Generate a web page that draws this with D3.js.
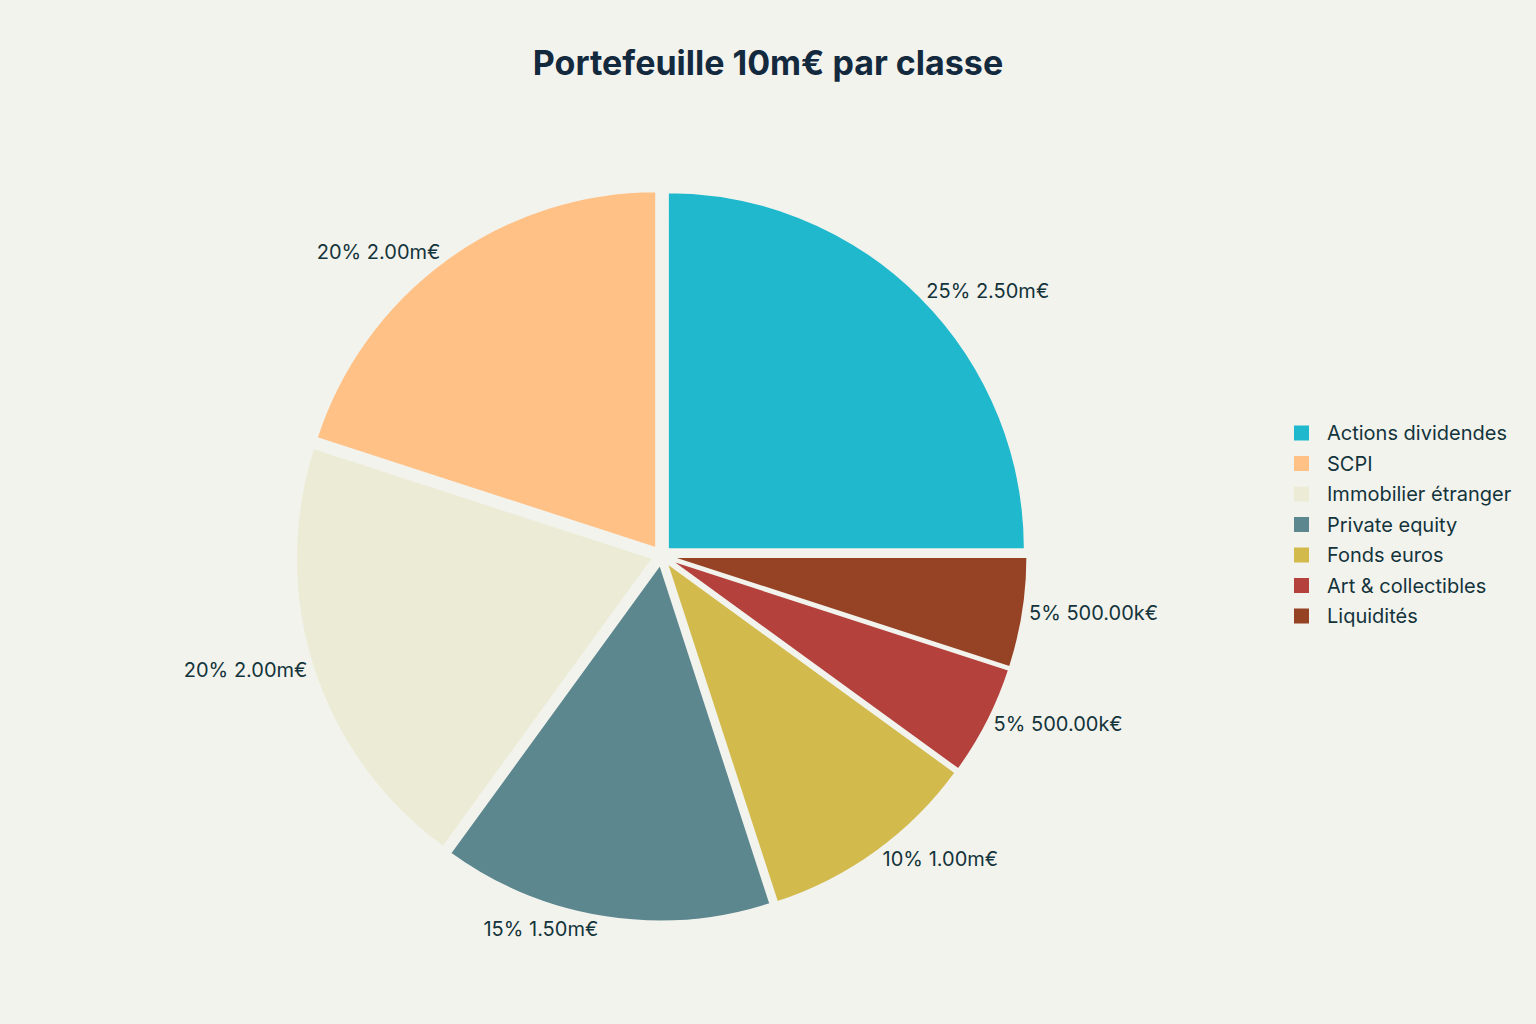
<!DOCTYPE html>
<html>
<head>
<meta charset="utf-8">
<script src="https://cdn.jsdelivr.net/npm/d3@7"></script>
<style>
  body { margin: 0; background: #F3F3EE; }
  svg { display: block; }
</style>
</head>
<body>
<div id="chart"></div>
<script>
// data
var categories = ["Actions dividendes", "SCPI", "Immobilier étranger", "Private equity", "Fonds euros", "Art & collectibles", "Liquidités"]
var shares = [25, 20, 20, 15, 10, 5, 5]
var amounts = ["2.50m€", "2.00m€", "2.00m€", "1.50m€", "1.00m€", "500.00k€", "500.00k€"]
var colors = ["#1FB8CD", "#FFC185", "#ECEBD5", "#5D878F", "#D2BA4C", "#B4413C", "#964325"]

var width = 1536, height = 1024
var cx = 661.5, cy = 555.5, radius = 357, pull = 9
var bg = "#F3F3EE", ink = "#13343B"
var font = "Inter, 'Liberation Sans', sans-serif"

var svg = d3.select("#chart")
  .append("svg")
    .attr("width", width)
    .attr("height", height)
    .style("background", bg)

svg.append("text")
  .attr("x", 768).attr("y", 75)
  .attr("text-anchor", "middle")
  .style("font-family", font)
  .style("font-size", "34px")
  .style("font-weight", "700")
  .style("fill", "#13293D")
  .text("Portefeuille 10m€ par classe")

var data = categories.map(function(c, i) {
  return {name: c, value: shares[i], label: shares[i] + "% " + amounts[i], color: colors[i]}
})

// counterclockwise, starting at 3 o'clock
var pie = d3.pie()
  .sort(null)
  .value(function(d) { return d.value })
  .startAngle(Math.PI / 2)
  .endAngle(Math.PI / 2 - 2 * Math.PI)

var arc = d3.arc().innerRadius(0).outerRadius(radius)

var slices = svg.append("g")
  .attr("transform", "translate(" + cx + "," + cy + ")")
  .selectAll("g")
  .data(pie(data))
  .enter()
  .append("g")
    .attr("transform", function(d) {
      var a = (d.startAngle + d.endAngle) / 2
      return "translate(" + (pull * Math.sin(a)) + "," + (-pull * Math.cos(a)) + ")"
    })

slices.append("path")
  .attr("d", arc)
  .attr("fill", function(d) { return d.data.color })
  .attr("stroke", bg)
  .attr("stroke-width", 2)

// outside labels, placed the way plotly does it
slices.each(function(d) {
  var g = d3.select(this)
  var a = (d.startAngle + d.endAngle) / 2
  var px = radius * Math.sin(a), py = -radius * Math.cos(a)
  var t = g.append("text")
    .attr("text-anchor", "middle")
    .attr("dominant-baseline", "central")
    .style("font-family", font)
    .style("font-size", "20px")
    .style("fill", ink)
    .text(d.data.label)
  var bb = t.node().getBBox()
  var dx = bb.width / 2, dy = bb.height / 2
  if (px < 0) dx *= -1
  if (py < 0) dy *= -1
  var ox = dx + Math.abs(dy) * (dx > 0 ? 1 : -1) / 2
  var oy = dy / (1 + px * px / (py * py))
  t.attr("x", px + ox).attr("y", py + oy)
})

// legend
var legend = svg.append("g")
  .attr("transform", "translate(1294,433)")

var rows = legend.selectAll("g")
  .data(data)
  .enter()
  .append("g")
    .attr("transform", function(d, i) { return "translate(0," + (i * 30.5) + ")" })

rows.append("rect")
  .attr("x", 0).attr("y", -7.5)
  .attr("width", 15).attr("height", 15)
  .attr("fill", function(d) { return d.color })

rows.append("text")
  .attr("x", 33).attr("y", 0)
  .attr("dominant-baseline", "central")
  .style("font-family", font)
  .style("font-size", "20px")
  .style("fill", ink)
  .text(function(d) { return d.name })
</script>
</body>
</html>
